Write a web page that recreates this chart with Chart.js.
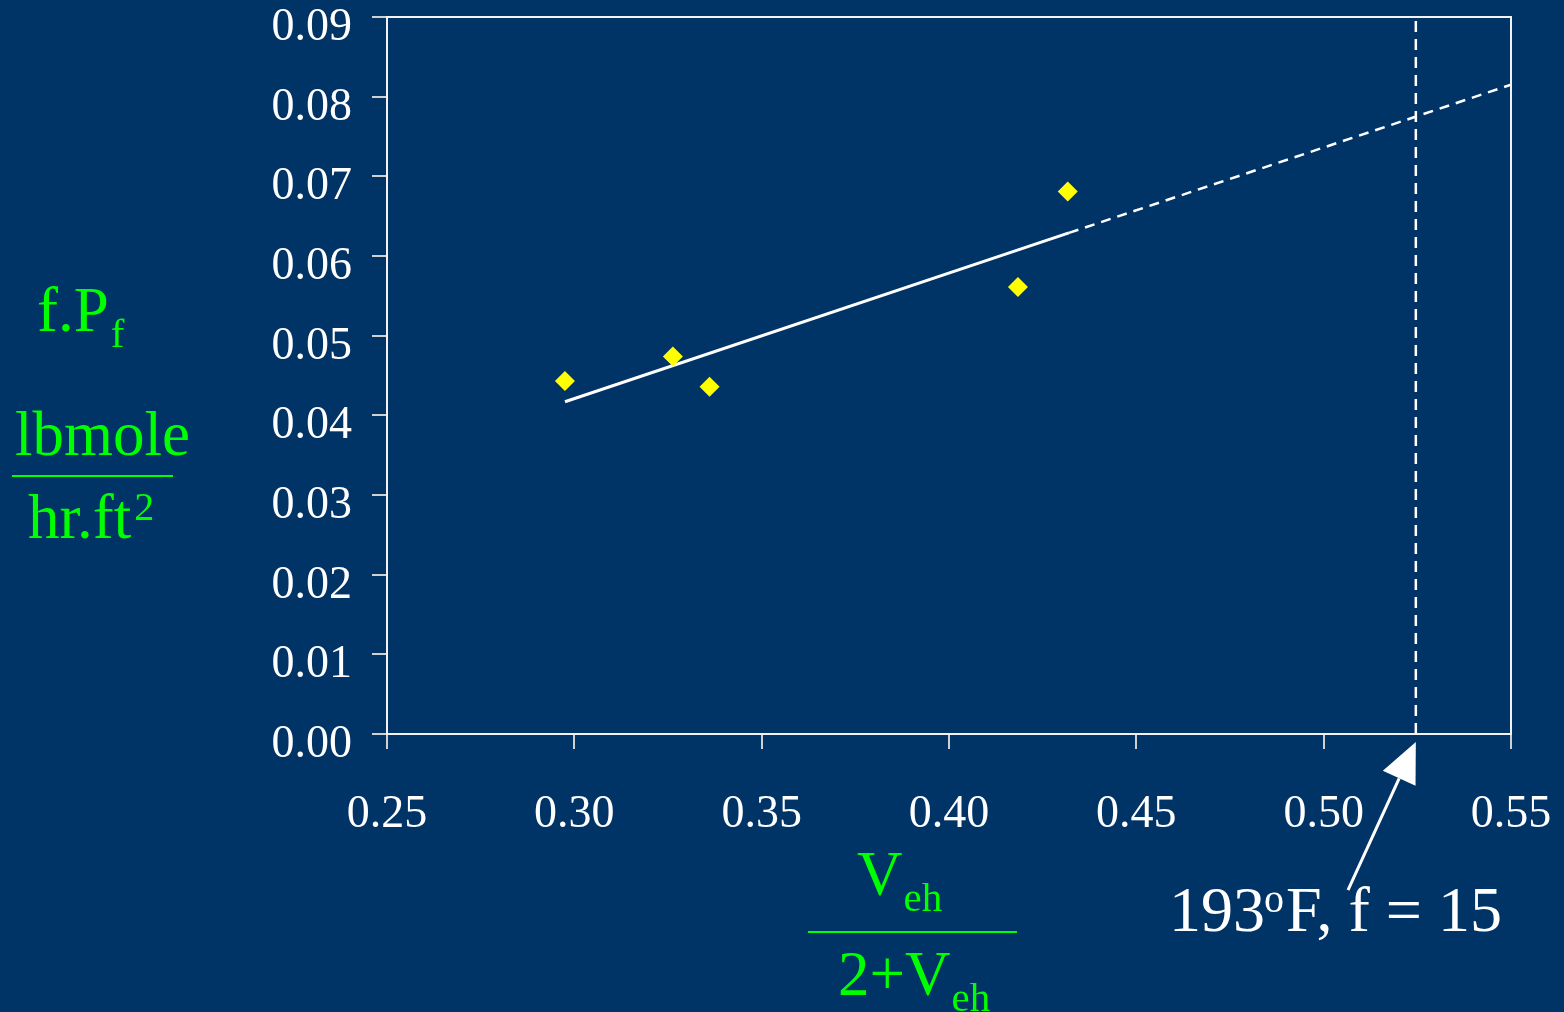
<!DOCTYPE html>
<html>
<head>
<meta charset="utf-8">
<script src="https://cdn.jsdelivr.net/npm/chart.js@4"></script>
<style>
  html, body { margin: 0; padding: 0; background: #003366; }
  #wrap { width: 1564px; height: 1012px; }
</style>
</head>
<body>
<div id="wrap"><canvas id="chart" width="1564" height="1012"></canvas></div>
<script>
// measured points
const xValues = [0.2975, 0.3263, 0.3361, 0.4184, 0.4317];
const yValues = [0.0443, 0.0474, 0.0436, 0.0561, 0.0681];

// fitted line (solid part) and its extrapolation (dashed)
const fitX = [0.2975, 0.432];
const fitY = [0.0417, 0.0629];
const extX = [0.432, 0.55];
const extY = [0.0629, 0.0815];

// vertical marker at 193 F
const markerX = 0.5246;
const markerY = [0, 0.09];

const xTicks = [0.25, 0.30, 0.35, 0.40, 0.45, 0.50, 0.55];
const yTicks = [0.00, 0.01, 0.02, 0.03, 0.04, 0.05, 0.06, 0.07, 0.08, 0.09];

const BG = "#003366";
const GREEN = "#00ff00";
const SERIF = '"Liberation Serif", "Times New Roman", serif';

function pairs(xs, ys) {
    return xs.map((x, i) => ({ x: x, y: ys[i] }));
}

function text(ctx, str, x, y, size, color) {
    ctx.font = size + "px " + SERIF;
    ctx.fillStyle = color;
    ctx.textAlign = "left";
    ctx.textBaseline = "alphabetic";
    ctx.fillText(str, x, y);
    return x + ctx.measureText(str).width;
}

const decorations = {
    id: "decorations",
    beforeDraw(chart) {
        const ctx = chart.ctx;
        ctx.save();
        ctx.fillStyle = BG;
        ctx.fillRect(0, 0, chart.width, chart.height);
        ctx.restore();
    },
    afterDraw(chart) {
        const ctx = chart.ctx;
        const area = chart.chartArea;
        ctx.save();

        // box round the plot
        ctx.strokeStyle = "#f2f2f2";
        ctx.lineWidth = 2;
        ctx.strokeRect(area.left, area.top, area.right - area.left, area.bottom - area.top);

        // y title
        let x = text(ctx, "f.P", 37, 331, 63, GREEN);
        text(ctx, "f", x + 2, 347, 41, GREEN);
        text(ctx, "lbmole", 15, 455, 63, GREEN);
        ctx.fillStyle = GREEN;
        ctx.fillRect(12, 475, 161, 2);
        x = text(ctx, "hr.ft", 28, 538, 63, GREEN);
        text(ctx, "2", x + 3, 520, 40, GREEN);

        // x title
        x = text(ctx, "V", 857, 895, 63, GREEN);
        text(ctx, "eh", x + 1, 911, 41, GREEN);
        ctx.fillStyle = GREEN;
        ctx.fillRect(808, 931, 209, 2);
        x = text(ctx, "2+V", 838, 995, 63, GREEN);
        text(ctx, "eh", x + 1, 1011, 41, GREEN);

        // annotation
        x = text(ctx, "193", 1169, 931, 64, "#ffffff");
        x = text(ctx, "o", x - 1, 912, 40, "#ffffff");
        ctx.font = "64px " + SERIF;
        const rest = "F, f = 15";
        const restW = ctx.measureText(rest).width;
        ctx.save();
        ctx.translate(x + 2, 931);
        ctx.scale(216 / restW, 1);
        text(ctx, rest, 0, 0, 64, "#ffffff");
        ctx.restore();

        // arrow pointing at the marker line
        const tipX = chart.scales.x.getPixelForValue(markerX);
        const tipY = area.bottom + 8;
        const tailX = 1348, tailY = 890;
        const dx = tipX - tailX, dy = tipY - tailY;
        const len = Math.sqrt(dx * dx + dy * dy);
        const ux = dx / len, uy = dy / len;
        const headLen = 40, headHalf = 18;
        const bx = tipX - ux * headLen, by = tipY - uy * headLen;
        ctx.strokeStyle = "#ffffff";
        ctx.lineWidth = 3;
        ctx.beginPath();
        ctx.moveTo(tailX, tailY);
        ctx.lineTo(bx, by);
        ctx.stroke();
        ctx.fillStyle = "#ffffff";
        ctx.beginPath();
        ctx.moveTo(tipX, tipY);
        ctx.lineTo(bx - uy * headHalf, by + ux * headHalf);
        ctx.lineTo(bx + uy * headHalf, by - ux * headHalf);
        ctx.closePath();
        ctx.fill();

        ctx.restore();
    }
};

new Chart(document.getElementById("chart"), {
    type: "scatter",
    data: {
        datasets: [
            {
                data: pairs(xValues, yValues),
                pointStyle: "rectRot",
                pointRadius: 10,
                pointHoverRadius: 10,
                backgroundColor: "#ffff00",
                borderColor: "#ffff00",
                borderWidth: 0
            },
            {
                data: pairs(fitX, fitY),
                showLine: true,
                pointRadius: 0,
                borderColor: "#ffffff",
                borderWidth: 3
            },
            {
                data: pairs(extX, extY),
                showLine: true,
                pointRadius: 0,
                borderColor: "#ffffff",
                borderWidth: 2.5,
                borderDash: [10, 7]
            },
            {
                data: markerY.map(y => ({ x: markerX, y: y })),
                showLine: true,
                pointRadius: 0,
                borderColor: "#ffffff",
                borderWidth: 2.5,
                borderDash: [11, 7]
            }
        ]
    },
    options: {
        responsive: false,
        animation: false,
        devicePixelRatio: 1,
        layout: { padding: { left: 0, top: 17, right: 53, bottom: 0 } },
        plugins: {
            legend: { display: false },
            tooltip: { enabled: false }
        },
        scales: {
            x: {
                type: "linear",
                min: 0.25,
                max: 0.55,
                afterBuildTicks: scale => { scale.ticks = xTicks.map(v => ({ value: v })); },
                afterFit: scale => {
                    scale.height = 278;
                    scale.paddingLeft = 0;
                    scale.paddingRight = 0;
                },
                grid: { drawOnChartArea: false, tickLength: 15, color: "#d0d0d0", lineWidth: 2 },
                border: { color: "#f2f2f2", width: 2 },
                ticks: {
                    color: "#ffffff",
                    font: { family: SERIF, size: 46 },
                    padding: 38,
                    maxRotation: 0,
                    callback: v => v.toFixed(2)
                }
            },
            y: {
                type: "linear",
                min: 0,
                max: 0.09,
                afterBuildTicks: scale => { scale.ticks = yTicks.map(v => ({ value: v })); },
                afterFit: scale => {
                    scale.width = 387;
                    scale.paddingTop = 0;
                    scale.paddingBottom = 0;
                },
                grid: { drawOnChartArea: false, tickLength: 15, color: "#d0d0d0", lineWidth: 2 },
                border: { color: "#f2f2f2", width: 2 },
                ticks: {
                    color: "#ffffff",
                    font: { family: SERIF, size: 46 },
                    padding: 20,
                    labelOffset: 11,
                    callback: v => v.toFixed(2)
                }
            }
        }
    },
    plugins: [decorations]
});
</script>
</body>
</html>
